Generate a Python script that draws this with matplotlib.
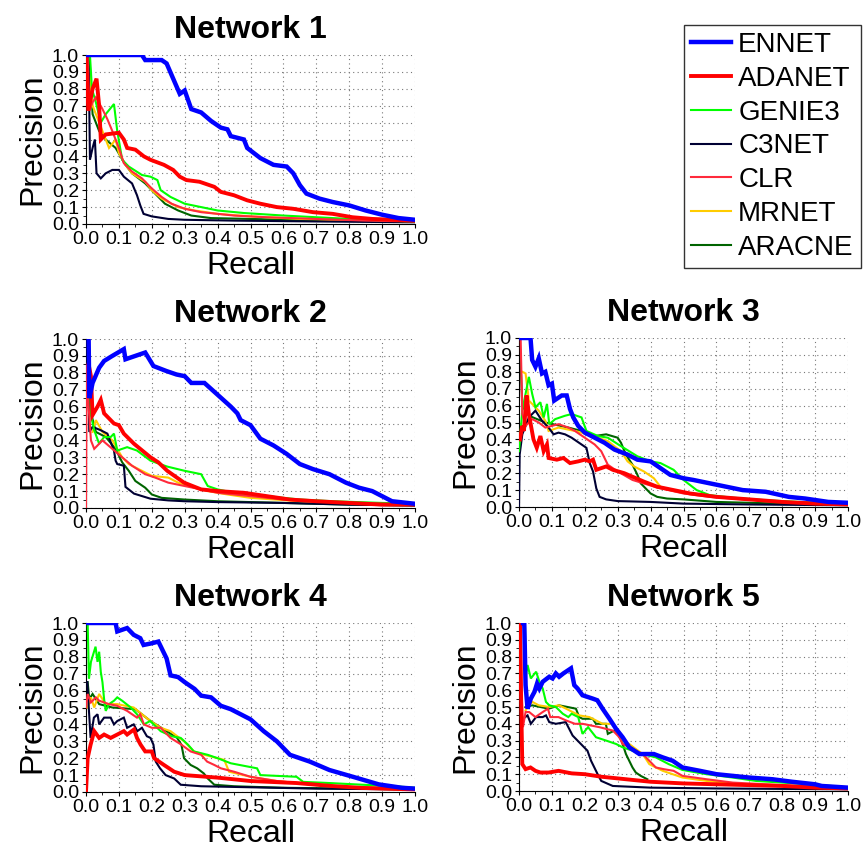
import matplotlib
matplotlib.use('Agg')
import matplotlib.pyplot as plt
from matplotlib.ticker import MultipleLocator

plt.rcParams['font.family'] = ['Liberation Sans', 'DejaVu Sans']

methods = ['ENNET', 'ADANET', 'GENIE3', 'C3NET', 'CLR', 'MRNET', 'ARACNE']
colors = ['#0000ff', '#ff0000', '#00ff00', '#000033', '#ff2a3c', '#ffcc00', '#006400']
widths = [3.2, 2.8, 1.5, 1.5, 1.5, 1.5, 1.5]
zorders = [10, 9, 5, 4, 6, 3, 2]
titles = ['Network 1', 'Network 2', 'Network 3', 'Network 4', 'Network 5']

# (recall, precision) pairs per network and method
net1_ennet = [(0.0,1.0),(0.17,1.0),(0.18,0.97),(0.23,0.97),(0.245,0.95),(0.265,0.86),(0.285,0.77),(0.30,0.79),(0.32,0.68),(0.35,0.66),(0.38,0.61),(0.41,0.57),(0.43,0.56),(0.44,0.52),(0.48,0.50),(0.49,0.45),(0.53,0.39),(0.57,0.35),(0.61,0.34),(0.63,0.30),(0.65,0.23),(0.67,0.18),(0.71,0.15),(0.75,0.13),(0.80,0.11),(0.85,0.08),(0.90,0.055),(0.95,0.035),(1.0,0.025)]
net1_adanet = [(0.0,1.0),(0.007,0.67),(0.02,0.80),(0.032,0.86),(0.04,0.70),(0.045,0.50),(0.06,0.53),(0.10,0.54),(0.115,0.50),(0.125,0.45),(0.15,0.44),(0.176,0.40),(0.196,0.38),(0.237,0.35),(0.265,0.32),(0.285,0.28),(0.305,0.26),(0.345,0.25),(0.39,0.22),(0.41,0.19),(0.45,0.17),(0.49,0.14),(0.53,0.12),(0.58,0.10),(0.63,0.09),(0.69,0.07),(0.75,0.06),(0.81,0.04),(0.87,0.03),(1.0,0.02)]
net1_genie3 = [(0.012,1.0),(0.018,0.80),(0.03,0.72),(0.045,0.60),(0.06,0.65),(0.085,0.71),(0.095,0.55),(0.11,0.38),(0.13,0.34),(0.146,0.32),(0.17,0.29),(0.196,0.28),(0.217,0.26),(0.227,0.20),(0.257,0.16),(0.30,0.12),(0.35,0.10),(0.40,0.08),(0.48,0.065),(0.60,0.05),(0.70,0.04),(0.80,0.03),(0.90,0.02),(1.0,0.015)]
net1_c3net = [(0.008,1.0),(0.012,0.38),(0.02,0.45),(0.027,0.50),(0.032,0.30),(0.045,0.27),(0.06,0.30),(0.08,0.32),(0.10,0.32),(0.115,0.28),(0.14,0.24),(0.155,0.17),(0.165,0.11),(0.175,0.06),(0.20,0.045),(0.25,0.03),(0.30,0.025),(0.45,0.02),(0.70,0.015),(1.0,0.01)]
net1_clr = [(0.005,1.0),(0.01,0.67),(0.02,0.72),(0.03,0.75),(0.05,0.68),(0.065,0.62),(0.08,0.55),(0.10,0.45),(0.115,0.36),(0.14,0.31),(0.17,0.27),(0.20,0.21),(0.23,0.16),(0.26,0.12),(0.30,0.09),(0.35,0.07),(0.45,0.05),(0.55,0.04),(0.70,0.03),(0.85,0.02),(1.0,0.015)]
net1_mrnet = [(0.01,0.90),(0.02,0.70),(0.04,0.60),(0.05,0.55),(0.07,0.45),(0.09,0.50),(0.10,0.42),(0.12,0.35),(0.14,0.30),(0.18,0.25),(0.20,0.20),(0.23,0.15),(0.28,0.10),(0.33,0.08),(0.40,0.06),(0.50,0.045),(0.65,0.03),(0.80,0.02),(1.0,0.015)]
net1_aracne = [(0.01,1.0),(0.02,0.65),(0.04,0.55),(0.06,0.50),(0.09,0.45),(0.12,0.35),(0.14,0.30),(0.18,0.24),(0.21,0.18),(0.24,0.12),(0.28,0.08),(0.32,0.05),(0.38,0.035),(0.50,0.03),(0.70,0.02),(1.0,0.015)]

net2_ennet = [(0.008,1.0),(0.01,0.65),(0.02,0.74),(0.04,0.83),(0.055,0.87),(0.08,0.90),(0.115,0.94),(0.12,0.88),(0.15,0.90),(0.18,0.92),(0.205,0.84),(0.245,0.81),(0.275,0.79),(0.30,0.78),(0.32,0.74),(0.36,0.74),(0.40,0.67),(0.44,0.60),(0.46,0.56),(0.47,0.52),(0.50,0.49),(0.53,0.41),(0.57,0.37),(0.61,0.32),(0.65,0.26),(0.69,0.23),(0.74,0.20),(0.79,0.15),(0.83,0.12),(0.87,0.10),(0.91,0.06),(0.93,0.04),(1.0,0.025)]
net2_adanet = [(0.008,0.85),(0.015,0.78),(0.02,0.55),(0.035,0.60),(0.045,0.64),(0.055,0.56),(0.085,0.50),(0.10,0.49),(0.115,0.44),(0.146,0.38),(0.196,0.30),(0.22,0.27),(0.247,0.22),(0.298,0.15),(0.35,0.11),(0.40,0.10),(0.48,0.09),(0.55,0.07),(0.62,0.05),(0.70,0.04),(0.80,0.03),(0.90,0.02),(1.0,0.02)]
net2_genie3 = [(0.008,1.0),(0.015,0.55),(0.025,0.46),(0.04,0.38),(0.055,0.42),(0.075,0.42),(0.085,0.44),(0.095,0.34),(0.125,0.36),(0.155,0.34),(0.196,0.28),(0.247,0.245),(0.30,0.22),(0.35,0.20),(0.37,0.13),(0.40,0.11),(0.45,0.09),(0.55,0.07),(0.65,0.05),(0.75,0.04),(0.90,0.03),(1.0,0.025)]
net2_c3net = [(0.005,1.0),(0.01,0.45),(0.02,0.48),(0.045,0.46),(0.065,0.44),(0.085,0.34),(0.09,0.28),(0.095,0.26),(0.115,0.25),(0.12,0.125),(0.146,0.085),(0.196,0.055),(0.25,0.045),(0.30,0.04),(0.40,0.035),(0.60,0.03),(0.80,0.02),(1.0,0.015)]
net2_clr = [(0.0,0.0),(0.002,0.85),(0.008,0.60),(0.015,0.40),(0.025,0.35),(0.05,0.40),(0.08,0.35),(0.11,0.30),(0.14,0.25),(0.18,0.20),(0.21,0.18),(0.25,0.15),(0.30,0.13),(0.35,0.11),(0.40,0.09),(0.50,0.07),(0.60,0.05),(0.75,0.035),(0.90,0.025),(1.0,0.02)]
net2_mrnet = [(0.02,0.45),(0.03,0.52),(0.05,0.45),(0.08,0.40),(0.11,0.30),(0.13,0.26),(0.17,0.22),(0.20,0.19),(0.25,0.18),(0.28,0.15),(0.33,0.12),(0.37,0.10),(0.43,0.08),(0.50,0.06),(0.65,0.04),(0.80,0.03),(1.0,0.02)]
net2_aracne = [(0.005,1.0),(0.01,0.60),(0.03,0.45),(0.06,0.42),(0.09,0.35),(0.11,0.27),(0.13,0.22),(0.15,0.16),(0.18,0.12),(0.20,0.08),(0.23,0.06),(0.30,0.05),(0.40,0.04),(0.60,0.03),(0.80,0.02),(1.0,0.015)]

net3_ennet = [(0.005,1.0),(0.035,1.0),(0.04,0.87),(0.05,0.83),(0.06,0.88),(0.07,0.79),(0.08,0.80),(0.09,0.72),(0.10,0.73),(0.107,0.63),(0.13,0.66),(0.145,0.66),(0.155,0.58),(0.165,0.53),(0.18,0.48),(0.20,0.44),(0.23,0.41),(0.26,0.38),(0.29,0.34),(0.33,0.31),(0.36,0.28),(0.40,0.27),(0.43,0.23),(0.46,0.19),(0.50,0.17),(0.53,0.16),(0.58,0.14),(0.63,0.12),(0.68,0.10),(0.75,0.09),(0.82,0.06),(0.87,0.05),(0.94,0.03),(1.0,0.025)]
net3_adanet = [(0.003,0.40),(0.01,0.48),(0.015,0.45),(0.023,0.66),(0.03,0.55),(0.044,0.40),(0.054,0.35),(0.065,0.42),(0.075,0.33),(0.085,0.37),(0.09,0.29),(0.115,0.28),(0.135,0.29),(0.155,0.26),(0.18,0.27),(0.20,0.28),(0.215,0.27),(0.225,0.28),(0.235,0.22),(0.265,0.24),(0.285,0.22),(0.32,0.20),(0.38,0.15),(0.42,0.12),(0.47,0.10),(0.52,0.08),(0.60,0.06),(0.70,0.045),(0.80,0.03),(0.90,0.02),(1.0,0.015)]
net3_genie3 = [(0.0,0.33),(0.01,0.57),(0.03,0.77),(0.04,0.67),(0.05,0.59),(0.065,0.62),(0.075,0.53),(0.085,0.61),(0.092,0.49),(0.11,0.52),(0.14,0.54),(0.16,0.55),(0.19,0.53),(0.205,0.45),(0.24,0.42),(0.27,0.41),(0.31,0.36),(0.36,0.30),(0.40,0.27),(0.43,0.26),(0.47,0.22),(0.50,0.16),(0.54,0.10),(0.58,0.07),(0.65,0.055),(0.75,0.04),(0.85,0.03),(1.0,0.02)]
net3_c3net = [(0.0,0.0),(0.002,0.31),(0.01,0.43),(0.03,0.53),(0.05,0.57),(0.07,0.51),(0.09,0.47),(0.105,0.43),(0.12,0.44),(0.14,0.43),(0.16,0.41),(0.175,0.39),(0.19,0.37),(0.205,0.35),(0.215,0.26),(0.225,0.21),(0.235,0.11),(0.245,0.06),(0.265,0.045),(0.30,0.035),(0.40,0.03),(0.50,0.02),(0.70,0.015),(1.0,0.01)]
net3_clr = [(0.005,1.0),(0.01,0.55),(0.02,0.48),(0.04,0.52),(0.06,0.50),(0.08,0.47),(0.12,0.49),(0.15,0.47),(0.17,0.45),(0.20,0.41),(0.23,0.37),(0.25,0.33),(0.27,0.25),(0.30,0.21),(0.345,0.16),(0.42,0.115),(0.50,0.08),(0.58,0.06),(0.65,0.05),(0.80,0.03),(1.0,0.02)]
net3_mrnet = [(0.01,0.80),(0.02,0.79),(0.03,0.63),(0.06,0.57),(0.08,0.51),(0.09,0.45),(0.12,0.47),(0.17,0.45),(0.21,0.43),(0.27,0.39),(0.31,0.33),(0.33,0.27),(0.35,0.24),(0.38,0.21),(0.41,0.17),(0.43,0.12),(0.47,0.095),(0.55,0.075),(0.65,0.05),(0.80,0.03),(1.0,0.02)]
net3_aracne = [(0.002,1.0),(0.01,0.60),(0.03,0.54),(0.08,0.50),(0.15,0.47),(0.19,0.45),(0.23,0.42),(0.265,0.43),(0.30,0.41),(0.31,0.38),(0.325,0.31),(0.345,0.25),(0.36,0.19),(0.37,0.14),(0.40,0.08),(0.42,0.06),(0.45,0.05),(0.50,0.045),(0.60,0.03),(0.80,0.02),(1.0,0.015)]

net4_ennet = [(0.0,1.0),(0.09,1.0),(0.095,0.95),(0.125,0.97),(0.145,0.93),(0.165,0.91),(0.175,0.87),(0.20,0.88),(0.22,0.89),(0.23,0.85),(0.245,0.79),(0.257,0.69),(0.28,0.68),(0.30,0.65),(0.33,0.61),(0.35,0.57),(0.38,0.56),(0.41,0.51),(0.44,0.49),(0.47,0.46),(0.50,0.43),(0.54,0.36),(0.58,0.30),(0.62,0.22),(0.68,0.18),(0.74,0.13),(0.82,0.085),(0.89,0.045),(0.96,0.025),(1.0,0.02)]
net4_adanet = [(0.0,0.0),(0.005,0.20),(0.014,0.28),(0.025,0.36),(0.04,0.32),(0.055,0.34),(0.075,0.32),(0.095,0.34),(0.115,0.36),(0.125,0.34),(0.146,0.37),(0.155,0.32),(0.166,0.28),(0.18,0.24),(0.20,0.24),(0.207,0.20),(0.237,0.16),(0.268,0.12),(0.30,0.10),(0.40,0.085),(0.50,0.065),(0.64,0.053),(0.75,0.035),(0.84,0.024),(1.0,0.015)]
net4_genie3 = [(0.005,1.0),(0.009,0.67),(0.015,0.77),(0.029,0.86),(0.035,0.77),(0.04,0.83),(0.045,0.71),(0.05,0.65),(0.055,0.55),(0.06,0.48),(0.07,0.52),(0.085,0.54),(0.095,0.56),(0.11,0.54),(0.136,0.50),(0.155,0.46),(0.176,0.40),(0.195,0.42),(0.227,0.36),(0.26,0.33),(0.288,0.32),(0.31,0.28),(0.328,0.24),(0.37,0.22),(0.40,0.20),(0.44,0.17),(0.52,0.14),(0.53,0.10),(0.64,0.09),(0.66,0.06),(0.74,0.053),(0.84,0.043),(0.94,0.034),(1.0,0.025)]
net4_c3net = [(0.004,0.65),(0.009,0.48),(0.014,0.32),(0.024,0.44),(0.035,0.46),(0.04,0.40),(0.055,0.44),(0.075,0.44),(0.085,0.40),(0.095,0.42),(0.115,0.44),(0.125,0.38),(0.145,0.40),(0.156,0.36),(0.17,0.38),(0.185,0.33),(0.196,0.32),(0.205,0.28),(0.212,0.18),(0.225,0.14),(0.242,0.10),(0.268,0.08),(0.288,0.043),(0.35,0.034),(0.50,0.028),(0.70,0.02),(1.0,0.015)]
net4_clr = [(0.0,0.50),(0.005,0.58),(0.015,0.53),(0.03,0.56),(0.04,0.54),(0.07,0.52),(0.095,0.51),(0.125,0.48),(0.155,0.44),(0.165,0.46),(0.176,0.40),(0.20,0.38),(0.227,0.38),(0.257,0.32),(0.29,0.28),(0.318,0.24),(0.35,0.22),(0.368,0.18),(0.39,0.16),(0.41,0.14),(0.45,0.12),(0.50,0.09),(0.58,0.065),(0.68,0.045),(0.80,0.03),(1.0,0.015)]
net4_mrnet = [(0.005,0.50),(0.015,0.56),(0.025,0.50),(0.04,0.58),(0.06,0.52),(0.095,0.52),(0.145,0.50),(0.17,0.46),(0.196,0.42),(0.227,0.38),(0.257,0.36),(0.298,0.30),(0.328,0.24),(0.36,0.22),(0.40,0.20),(0.42,0.19),(0.435,0.12),(0.50,0.09),(0.58,0.065),(0.68,0.045),(0.80,0.03),(1.0,0.02)]
net4_aracne = [(0.005,0.65),(0.01,0.55),(0.02,0.58),(0.04,0.52),(0.08,0.50),(0.15,0.49),(0.196,0.42),(0.245,0.36),(0.277,0.32),(0.29,0.28),(0.298,0.20),(0.318,0.16),(0.338,0.14),(0.358,0.11),(0.37,0.08),(0.39,0.043),(0.45,0.034),(0.60,0.025),(0.80,0.02),(1.0,0.015)]

net5_ennet = [(0.012,1.0),(0.016,1.0),(0.02,0.63),(0.026,0.49),(0.036,0.55),(0.047,0.59),(0.055,0.64),(0.062,0.61),(0.072,0.65),(0.092,0.68),(0.102,0.67),(0.112,0.70),(0.122,0.68),(0.135,0.70),(0.158,0.73),(0.168,0.63),(0.178,0.61),(0.193,0.57),(0.224,0.55),(0.238,0.54),(0.254,0.49),(0.275,0.43),(0.295,0.37),(0.315,0.32),(0.335,0.26),(0.366,0.22),(0.41,0.22),(0.437,0.20),(0.467,0.18),(0.497,0.14),(0.55,0.12),(0.60,0.10),(0.65,0.09),(0.70,0.08),(0.77,0.07),(0.83,0.055),(0.90,0.04),(0.92,0.03),(1.0,0.02)]
net5_adanet = [(0.003,1.0),(0.006,0.60),(0.01,0.16),(0.02,0.13),(0.035,0.14),(0.05,0.12),(0.065,0.11),(0.09,0.11),(0.12,0.12),(0.16,0.105),(0.20,0.10),(0.25,0.085),(0.30,0.075),(0.35,0.065),(0.40,0.055),(0.50,0.045),(0.60,0.04),(0.70,0.035),(0.80,0.03),(0.90,0.02),(1.0,0.015)]
net5_genie3 = [(0.018,1.0),(0.021,0.69),(0.026,0.75),(0.036,0.67),(0.052,0.71),(0.062,0.65),(0.072,0.61),(0.082,0.53),(0.092,0.51),(0.112,0.50),(0.133,0.46),(0.15,0.44),(0.16,0.46),(0.18,0.44),(0.193,0.34),(0.21,0.38),(0.234,0.32),(0.265,0.30),(0.295,0.28),(0.315,0.26),(0.345,0.24),(0.375,0.22),(0.416,0.20),(0.455,0.16),(0.497,0.125),(0.57,0.10),(0.65,0.08),(0.72,0.06),(0.80,0.05),(0.88,0.04),(0.95,0.03),(1.0,0.02)]
net5_c3net = [(0.005,0.33),(0.012,0.43),(0.026,0.45),(0.036,0.40),(0.052,0.44),(0.072,0.44),(0.082,0.45),(0.092,0.41),(0.112,0.40),(0.142,0.41),(0.163,0.33),(0.183,0.29),(0.193,0.27),(0.208,0.24),(0.219,0.18),(0.229,0.14),(0.239,0.10),(0.25,0.06),(0.285,0.03),(0.40,0.02),(0.60,0.015),(1.0,0.01)]
net5_clr = [(0.005,1.0),(0.008,0.59),(0.012,0.38),(0.02,0.47),(0.031,0.47),(0.05,0.44),(0.072,0.47),(0.088,0.49),(0.095,0.44),(0.12,0.44),(0.143,0.42),(0.17,0.40),(0.193,0.40),(0.244,0.38),(0.285,0.36),(0.305,0.32),(0.315,0.28),(0.335,0.26),(0.355,0.24),(0.376,0.22),(0.396,0.18),(0.416,0.14),(0.44,0.13),(0.47,0.12),(0.497,0.09),(0.57,0.07),(0.65,0.05),(0.75,0.04),(0.85,0.03),(1.0,0.02)]
net5_mrnet = [(0.02,0.48),(0.031,0.51),(0.041,0.53),(0.06,0.51),(0.092,0.50),(0.122,0.51),(0.143,0.49),(0.183,0.45),(0.214,0.44),(0.254,0.40),(0.285,0.40),(0.295,0.36),(0.315,0.30),(0.335,0.28),(0.355,0.25),(0.376,0.22),(0.396,0.16),(0.416,0.14),(0.437,0.12),(0.497,0.08),(0.57,0.06),(0.65,0.045),(0.80,0.03),(1.0,0.02)]
net5_aracne = [(0.02,0.50),(0.04,0.51),(0.09,0.49),(0.122,0.51),(0.173,0.49),(0.183,0.44),(0.193,0.43),(0.224,0.43),(0.234,0.40),(0.264,0.40),(0.27,0.34),(0.29,0.36),(0.305,0.33),(0.315,0.28),(0.325,0.22),(0.335,0.18),(0.345,0.14),(0.355,0.11),(0.37,0.09),(0.39,0.07)]

networks = [
    [net1_ennet, net1_adanet, net1_genie3, net1_c3net, net1_clr, net1_mrnet, net1_aracne],
    [net2_ennet, net2_adanet, net2_genie3, net2_c3net, net2_clr, net2_mrnet, net2_aracne],
    [net3_ennet, net3_adanet, net3_genie3, net3_c3net, net3_clr, net3_mrnet, net3_aracne],
    [net4_ennet, net4_adanet, net4_genie3, net4_c3net, net4_clr, net4_mrnet, net4_aracne],
    [net5_ennet, net5_adanet, net5_genie3, net5_c3net, net5_clr, net5_mrnet, net5_aracne],
]

W, H = 865, 850
# axes boxes in pixels: left, top, right, bottom
boxes = [(86, 55, 415, 224), (86, 339, 415, 508), (519, 338, 848, 507),
         (86, 623, 415, 792), (519, 623, 848, 791)]

fig = plt.figure(figsize=(W / 100, H / 100), dpi=100)

ticks = [i / 10 for i in range(11)]
ticklabels = ['%.1f' % t for t in ticks]

handles = []
for k, (curves, box) in enumerate(zip(networks, boxes)):
    l, t, r, b = box
    ax = fig.add_axes([l / W, 1 - b / H, (r - l) / W, (b - t) / H])
    for j, pts in enumerate(curves):
        rec = [p[0] for p in pts]
        prec = [p[1] for p in pts]
        line, = ax.plot(rec, prec, color=colors[j], lw=widths[j],
                        zorder=zorders[j], label=methods[j],
                        solid_joinstyle='miter')
        if k == 0:
            handles.append(line)
    ax.set_xlim(0, 1)
    ax.set_ylim(0, 1)
    ax.set_xticks(ticks)
    ax.set_yticks(ticks)
    ax.set_xticklabels(ticklabels)
    ax.set_yticklabels(ticklabels)
    ax.xaxis.set_minor_locator(MultipleLocator(0.05))
    ax.yaxis.set_minor_locator(MultipleLocator(0.05))
    ax.tick_params(which='major', length=3, width=0.8, labelsize=14, pad=2)
    ax.tick_params(which='minor', length=2, width=0.6)
    ax.grid(True, which='major', linestyle=(0, (1, 3)), color='#777777', linewidth=0.8)
    for s in ['top', 'right']:
        ax.spines[s].set_visible(False)
    ax.set_title(titles[k], fontsize=23, fontweight='bold', pad=12)
    ax.set_xlabel('Recall', fontsize=23, labelpad=2)
    ax.set_ylabel('Precision', fontsize=23, labelpad=3)

leg = fig.legend(handles=handles, loc='upper left',
                 bbox_to_anchor=(684 / W, 1 - 25 / H), fontsize=20,
                 frameon=True, fancybox=False, edgecolor='black',
                 handlelength=1.45, handletextpad=0.25, labelspacing=0.28,
                 borderpad=0.25, borderaxespad=0)
leg.get_frame().set_linewidth(1.0)

plt.savefig('out.png', dpi=100)
